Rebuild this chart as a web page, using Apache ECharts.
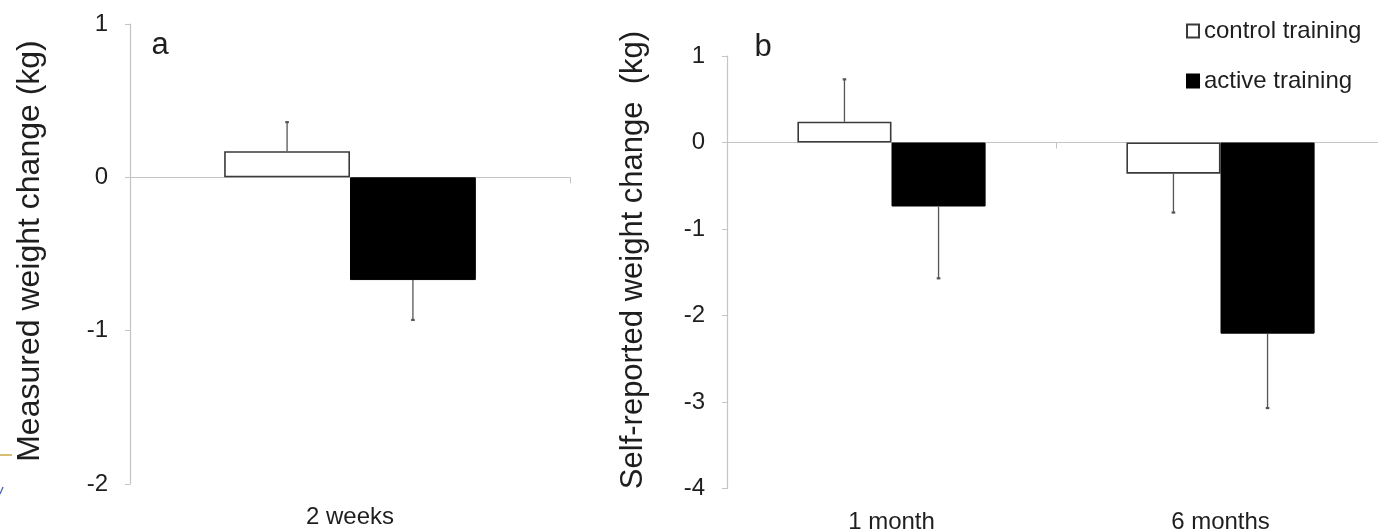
<!DOCTYPE html>
<html>
<head>
<meta charset="utf-8">
<script src="https://cdn.jsdelivr.net/npm/echarts@6/dist/echarts.min.js"></script>
<style>
  html, body { margin: 0; padding: 0; background: #fff; }
  #chart { width: 1378px; height: 530px; }
</style>
</head>
<body>
<div id="chart"></div>
<script>
// ---- data ----
const categoriesA = ['2 weeks'];
const controlA = [0.17];
const controlAErr = [0.36];
const activeA = [-0.67];
const activeAErr = [-0.93];

const categoriesB = ['1 month', '6 months'];
const controlB = [0.24, -0.36];
const controlBErr = [0.73, -0.81];
const activeB = [-0.74, -2.21];
const activeBErr = [-1.57, -3.07];

const seriesNames = ['control training', 'active training'];
const yRangeA = [-2, 1];
const yRangeB = [-4, 1];

// ---- styles ----
const FONT = "'Liberation Sans', Arial, sans-serif";
const TXT = '#1e1e1e';
const AXIS = '#c4c4c4';
const BARW = '28.6%';

function errData(vals, errs, side) {
  return vals.map((v, i) => [i, v, errs[i], side]);
}
function renderErr(params, api) {
  const cat = api.value(0), v = api.value(1), e = api.value(2), side = api.value(3);
  const band = api.size([1, 0])[0];
  const off = side * band * 0.143;
  const p1 = api.coord([cat, v]);
  const p2 = api.coord([cat, e]);
  const x = p1[0] + off;
  return {
    type: 'group',
    children: [
      { type: 'line', shape: { x1: x, y1: p1[1], x2: x, y2: p2[1] }, style: { stroke: '#555', lineWidth: 1.3 } },
      { type: 'line', shape: { x1: x - 1.8, y1: p2[1], x2: x + 1.8, y2: p2[1] }, style: { stroke: '#555', lineWidth: 2.2 } }
    ]
  };
}

const yAxisBase = (range, grid) => ({
  type: 'value', gridIndex: grid, min: range[0], max: range[1], interval: 1,
  axisLine: { show: true, lineStyle: { color: AXIS, width: 1.2 } },
  axisTick: { show: true, length: 5, lineStyle: { color: AXIS } },
  splitLine: { show: false },
  axisLabel: { color: TXT, fontSize: 24, fontFamily: FONT, margin: 22 }
});

const labelAxis = (cats, grid, margin) => ({
  type: 'category', gridIndex: grid, data: cats, position: 'bottom',
  axisLine: { show: false, onZero: false },
  axisTick: { show: false },
  axisLabel: { color: TXT, fontSize: 24, fontFamily: FONT, margin: margin }
});
const zeroAxis = (cats, grid) => ({
  type: 'category', gridIndex: grid, data: cats, position: 'bottom',
  axisLine: { show: true, onZero: true, lineStyle: { color: AXIS, width: 1.2 } },
  axisTick: { show: true, length: 6, lineStyle: { color: AXIS } },
  axisLabel: { show: false }
});

const ctrlStyle = { color: '#ffffff', borderColor: '#3a3a3a', borderWidth: 1.6 };
const actStyle = { color: '#000000', borderColor: '#000000', borderWidth: 1 };

const option = {
  backgroundColor: '#ffffff',
  animation: false,
  textStyle: { fontFamily: FONT },
  grid: [
    { left: 130, top: 24, width: 440, height: 460, containLabel: false, outerBoundsMode: 'none' },
    { left: 727, top: 56, width: 658, height: 432.5, containLabel: false, outerBoundsMode: 'none' }
  ],
  xAxis: [
    labelAxis(categoriesA, 0, 21),
    zeroAxis(categoriesA, 0),
    labelAxis(categoriesB, 1, 22),
    zeroAxis(categoriesB, 1)
  ],
  yAxis: [yAxisBase(yRangeA, 0), yAxisBase(yRangeB, 1)],
  legend: {
    data: seriesNames,
    orient: 'vertical',
    left: 1181, top: 14,
    itemWidth: 12, itemHeight: 13, itemGap: 26,
    icon: 'rect',
    textStyle: { color: TXT, fontSize: 24, fontFamily: FONT, padding: [0, 0, 0, 0] }
  },
  series: [
    { name: seriesNames[0], type: 'bar', xAxisIndex: 0, yAxisIndex: 0, data: controlA, barWidth: BARW, barGap: '0%', itemStyle: ctrlStyle },
    { name: seriesNames[1], type: 'bar', xAxisIndex: 0, yAxisIndex: 0, data: activeA, barWidth: BARW, barGap: '0%', itemStyle: actStyle },
    { name: seriesNames[0], type: 'bar', xAxisIndex: 2, yAxisIndex: 1, data: controlB, barWidth: BARW, barGap: '0%', itemStyle: ctrlStyle },
    { name: seriesNames[1], type: 'bar', xAxisIndex: 2, yAxisIndex: 1, data: activeB, barWidth: BARW, barGap: '0%', itemStyle: actStyle },
    { type: 'custom', xAxisIndex: 0, yAxisIndex: 0, renderItem: renderErr, data: errData(controlA, controlAErr, -1), z: 5 },
    { type: 'custom', xAxisIndex: 0, yAxisIndex: 0, renderItem: renderErr, data: errData(activeA, activeAErr, 1), z: 5 },
    { type: 'custom', xAxisIndex: 2, yAxisIndex: 1, renderItem: renderErr, data: errData(controlB, controlBErr, -1), z: 5 },
    { type: 'custom', xAxisIndex: 2, yAxisIndex: 1, renderItem: renderErr, data: errData(activeB, activeBErr, 1), z: 5 }
  ],
  graphic: [
    { type: 'text', x: 30, y: 251, rotation: Math.PI / 2,
      style: { text: 'Measured weight change (kg)', fill: TXT, font: "32px " + FONT, textAlign: 'center', textVerticalAlign: 'middle' } },
    { type: 'text', x: 633, y: 260, rotation: Math.PI / 2,
      style: { text: 'Self-reported weight change  (kg)', fill: TXT, font: "31px " + FONT, textAlign: 'center', textVerticalAlign: 'middle' } },
    { type: 'text', x: 160, y: 45, style: { text: 'a', fill: TXT, font: "31px " + FONT, textAlign: 'center', textVerticalAlign: 'middle' } },
    { type: 'text', x: 763, y: 47, style: { text: 'b', fill: TXT, font: "31px " + FONT, textAlign: 'center', textVerticalAlign: 'middle' } },
    { type: 'line', shape: { x1: 0, y1: 455, x2: 12, y2: 455 }, style: { stroke: '#c9a84a', lineWidth: 1.5 } },
    { type: 'line', shape: { x1: 0, y1: 494, x2: 3, y2: 487 }, style: { stroke: '#3a5aa8', lineWidth: 1.2 } }
  ]
};

const chart = echarts.init(document.getElementById('chart'), null, { renderer: 'canvas' });
chart.setOption(option);
</script>
</body>
</html>
